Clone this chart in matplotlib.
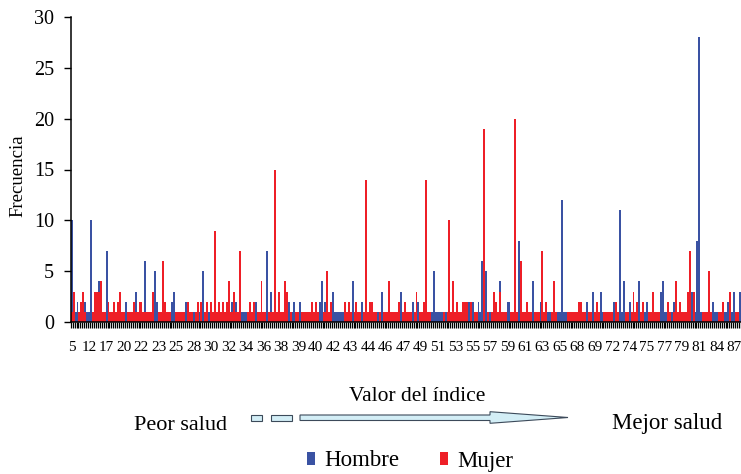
import numpy as np
import matplotlib
matplotlib.use("Agg")
import matplotlib.pyplot as plt
from matplotlib.patches import Polygon, Rectangle

plt.rcParams['font.family'] = ['Liberation Serif', 'DejaVu Serif']

# x tick labels (one label every 9 categories)
tick_labels = ["5", "12", "17", "20", "22", "23", "25", "28", "30", "32", "34", "36", "38",
               "39", "40", "42", "43", "44", "46", "47", "49", "51", "53", "55", "57", "59",
               "61", "63", "65", "68", "69", "72", "74", "75", "77", "79", "81", "84", "87"]

# Frecuencia per index value, Hombre
hombre = [
    10, 1, 1, 2, 1, 1, 1, 2, 1,
    1, 10, 1, 1, 1, 4, 1, 1, 1,
    7, 1, 1, 1, 1, 1, 1, 1, 1,
    1, 2, 1, 1, 1, 1, 3, 1, 1,
    1, 1, 6, 1, 1, 1, 1, 5, 2,
    1, 1, 1, 1, 1, 1, 1, 2, 3,
    1, 1, 1, 1, 1, 2, 1, 1, 1,
    1, 1, 1, 1, 1, 5, 1, 1, 1,
    1, 1, 1, 1, 1, 1, 1, 1, 1,
    1, 1, 2, 1, 2, 1, 1, 1, 1,
    1, 1, 1, 1, 1, 2, 1, 1, 1,
    1, 1, 7, 1, 3, 1, 1, 1, 3,
    1, 1, 1, 1, 2, 1, 1, 2, 1,
    1, 2, 1, 1, 1, 1, 1, 1, 1,
    1, 1, 2, 4, 1, 2, 1, 1, 1,
    3, 1, 1, 1, 1, 1, 1, 1, 1,
    1, 4, 1, 1, 1, 1, 2, 1, 1,
    1, 1, 1, 1, 1, 1, 1, 3, 1,
    1, 1, 1, 1, 1, 1, 1, 1, 3,
    1, 1, 1, 1, 1, 2, 1, 1, 2,
    1, 1, 1, 1, 1, 1, 1, 5, 1,
    1, 1, 1, 1, 1, 1, 1, 1, 1,
    1, 1, 1, 1, 1, 1, 1, 2, 1,
    2, 1, 1, 2, 1, 6, 1, 5, 1,
    1, 1, 1, 1, 1, 4, 1, 1, 1,
    2, 2, 1, 1, 1, 1, 8, 1, 1,
    1, 1, 1, 1, 4, 1, 1, 1, 2,
    1, 1, 1, 1, 1, 1, 1, 1, 1,
    1, 12, 1, 1, 1, 1, 1, 1, 1,
    1, 1, 1, 1, 1, 2, 1, 1, 3,
    1, 1, 1, 3, 1, 1, 1, 1, 1,
    1, 2, 1, 1, 11, 1, 4, 1, 1,
    2, 1, 1, 1, 1, 4, 1, 1, 1,
    2, 1, 1, 1, 1, 1, 1, 3, 4,
    1, 1, 1, 1, 1, 2, 1, 1, 1,
    1, 1, 1, 1, 1, 3, 1, 1, 8,
    28, 1, 1, 1, 1, 1, 1, 2, 1,
    1, 1, 1, 1, 1, 1, 2, 1, 1,
    3, 1, 1, 3,
]

# Frecuencia per index value, Mujer
mujer = [
    1, 3, 0, 0, 1, 2, 3, 1, 0,
    0, 0, 1, 3, 3, 3, 4, 1, 1,
    0, 2, 1, 1, 2, 1, 2, 3, 1,
    1, 0, 1, 1, 1, 2, 1, 1, 2,
    2, 1, 1, 1, 1, 1, 3, 0, 0,
    1, 1, 6, 2, 1, 1, 1, 0, 0,
    1, 1, 1, 1, 1, 0, 2, 1, 1,
    0, 1, 2, 0, 2, 0, 1, 2, 0,
    2, 1, 9, 1, 2, 1, 2, 1, 2,
    4, 1, 1, 3, 1, 1, 7, 0, 0,
    0, 1, 2, 1, 2, 0, 1, 1, 4,
    1, 1, 0, 1, 1, 1, 15, 1, 3,
    1, 1, 4, 3, 0, 1, 0, 0, 1,
    1, 0, 1, 1, 1, 1, 1, 2, 1,
    2, 1, 0, 0, 1, 1, 5, 1, 2,
    0, 0, 0, 0, 0, 0, 2, 1, 2,
    1, 0, 1, 2, 1, 1, 0, 1, 14,
    1, 2, 2, 1, 1, 0, 1, 0, 1,
    1, 1, 4, 1, 1, 1, 1, 2, 0,
    1, 2, 1, 1, 1, 0, 1, 3, 0,
    1, 1, 2, 14, 1, 1, 0, 0, 0,
    0, 0, 0, 1, 0, 1, 10, 1, 4,
    1, 2, 1, 1, 2, 2, 2, 0, 2,
    0, 1, 1, 0, 0, 0, 19, 0, 1,
    0, 1, 3, 2, 1, 3, 1, 1, 1,
    0, 0, 1, 1, 20, 1, 0, 6, 1,
    1, 2, 1, 1, 0, 1, 1, 1, 0,
    7, 1, 2, 0, 0, 1, 4, 1, 0,
    0, 0, 0, 0, 1, 1, 1, 1, 1,
    1, 2, 2, 1, 1, 0, 1, 1, 0,
    1, 2, 1, 0, 0, 1, 1, 1, 1,
    1, 0, 2, 1, 0, 0, 0, 1, 1,
    0, 1, 3, 1, 2, 0, 1, 2, 0,
    0, 1, 1, 3, 1, 1, 1, 0, 0,
    0, 0, 2, 1, 0, 1, 4, 1, 2,
    1, 1, 1, 3, 7, 0, 3, 0, 0,
    0, 0, 1, 1, 1, 5, 1, 0, 0,
    0, 1, 1, 2, 0, 0, 0, 3, 0,
    0, 1, 1, 0,
]

label_step = 9
BLUE = "#3a52a3"
RED = "#ee1f27"

W, H = 741, 474
fig = plt.figure(figsize=(W / 100, H / 100), dpi=100)

def fx(px):
    return px / W

def fy(py):
    return 1 - py / H

ax = fig.add_axes([fx(70.7), fy(322), 1 - fx(70.7), fy(17) - fy(322)])

n = len(hombre)
x = np.arange(n)
ax.bar(x, hombre, width=1.0, color=BLUE, linewidth=0, label="Hombre")
ax.bar(x, mujer, width=1.0, color=RED, linewidth=0, label="Mujer")

ax.set_xlim(-0.5, n - 0.5)
ax.set_ylim(0, 30)
ax.set_yticks(np.arange(0, 31, 5))
ax.tick_params(axis='y', labelsize=14.5, length=5, width=1, pad=7, direction='out')

ax.set_xticks(np.arange(0, len(tick_labels) * label_step, label_step))
ax.set_xticklabels(tick_labels)
ax.tick_params(axis='x', which='major', length=0, labelsize=11, pad=14)
ax.set_xticks(np.arange(-0.5, n, 1), minor=True)
ax.tick_params(axis='x', which='minor', length=4.5, width=0.9, direction='out')

for s in ['top', 'right']:
    ax.spines[s].set_visible(False)
for s in ['left', 'bottom']:
    ax.spines[s].set_linewidth(1.1)
    ax.spines[s].set_color('black')

fig.text(fx(18), fy(176), "Frecuencia", rotation=90, ha='center', va='center', fontsize=13.5)
fig.text(fx(417), fy(401), "Valor del índice", ha='center', va='baseline', fontsize=15.5)
fig.text(fx(180.5), fy(429.5), "Peor salud", ha='center', va='baseline', fontsize=16)
fig.text(fx(667), fy(429.5), "Mejor salud", ha='center', va='baseline', fontsize=16.5)

# arrow graphic
fill = "#d3eef6"
edge = "#3c4a5a"
for (x0, x1) in [(251, 261.7), (271, 291.7)]:
    fig.patches.append(Rectangle((fx(x0), fy(420.5)), fx(x1) - fx(x0), fy(415) - fy(420.5),
                                 transform=fig.transFigure, facecolor=fill, edgecolor=edge,
                                 linewidth=0.8))
pts = [(300, 415), (490, 415), (490, 411.7), (568, 417.5), (490, 423.3), (490, 420.5), (300, 420.5)]
fig.patches.append(Polygon([(fx(a), fy(b)) for a, b in pts], closed=True,
                           transform=fig.transFigure, facecolor=fill, edgecolor=edge,
                           linewidth=0.8))

leg = fig.legend(loc='center', bbox_to_anchor=(fx(410), fy(461)), ncol=2, frameon=False,
                 fontsize=16.5, handlelength=0.35, handleheight=0.5, handletextpad=0.4,
                 columnspacing=1.8, borderaxespad=0, borderpad=0)

fig.savefig("out.png", dpi=100)
